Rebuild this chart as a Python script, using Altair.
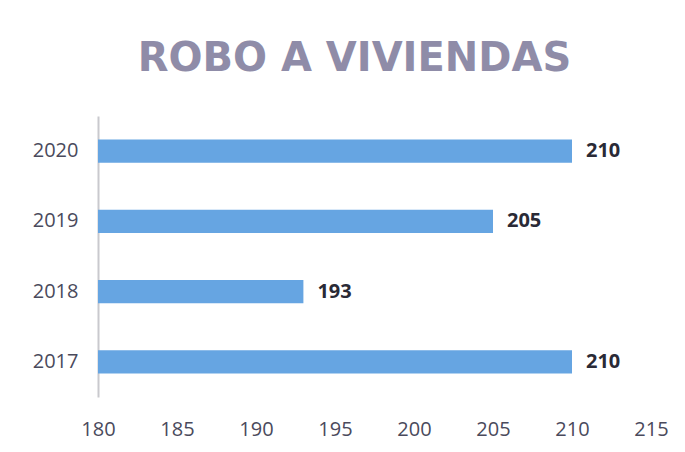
import altair as alt
import pandas as pd

years = ["2020", "2019", "2018", "2017"]
values = [210, 205, 193, 210]
x_ticks = [180, 185, 190, 195, 200, 205, 210, 215]
x_min, x_max = 180, 215

df = pd.DataFrame({"year": years, "value": values})

FONT = "Open Sans"
x_scale = alt.Scale(domain=[x_min, x_max], zero=False, nice=False)

y_enc = alt.Y(
    "year:N",
    sort=years,
    scale=alt.Scale(paddingInner=0.67, paddingOuter=0.335),
    axis=alt.Axis(
        title=None, ticks=False, domain=True, domainColor="#c9c9ce", domainWidth=2,
        labelFont=FONT, labelFontSize=20, labelColor="#4a4a5c", labelPadding=20,
    ),
)

bars = alt.Chart(df).transform_calculate(base=str(x_min)).mark_bar(color="#66a5e2").encode(
    x=alt.X(
        "base:Q",
        scale=x_scale,
        axis=alt.Axis(
            values=x_ticks, title=None, grid=False, ticks=False, domain=False,
            labelFlush=False, labelFont=FONT, labelFontSize=20,
            labelColor="#4a4a5c", labelPadding=22,
        ),
    ),
    x2="value:Q",
    y=y_enc,
)

labels = alt.Chart(df).mark_text(
    align="left", baseline="middle", dx=14, font=FONT, fontSize=20,
    fontWeight="bold", color="#2a2a36",
).encode(
    x=alt.X("value:Q", scale=x_scale),
    y=alt.Y("year:N", sort=years),
    text="value:Q",
)

chart = (
    alt.layer(bars, labels)
    .properties(
        width=553,
        height=281,
        autosize=alt.AutoSizeParams(type="none"),
        padding={"left": 90, "top": 108, "right": 26, "bottom": 47},
        title=alt.TitleParams(
            "ROBO A VIVIENDAS",
            font="DejaVu Sans", fontSize=40, fontWeight="bold", color="#8f8ca8",
            anchor="middle", dx=-20, offset=37,
        ),
    )
    .configure_view(stroke=None)
)

chart.save("out.html", embed_options={"renderer": "svg", "actions": False})
